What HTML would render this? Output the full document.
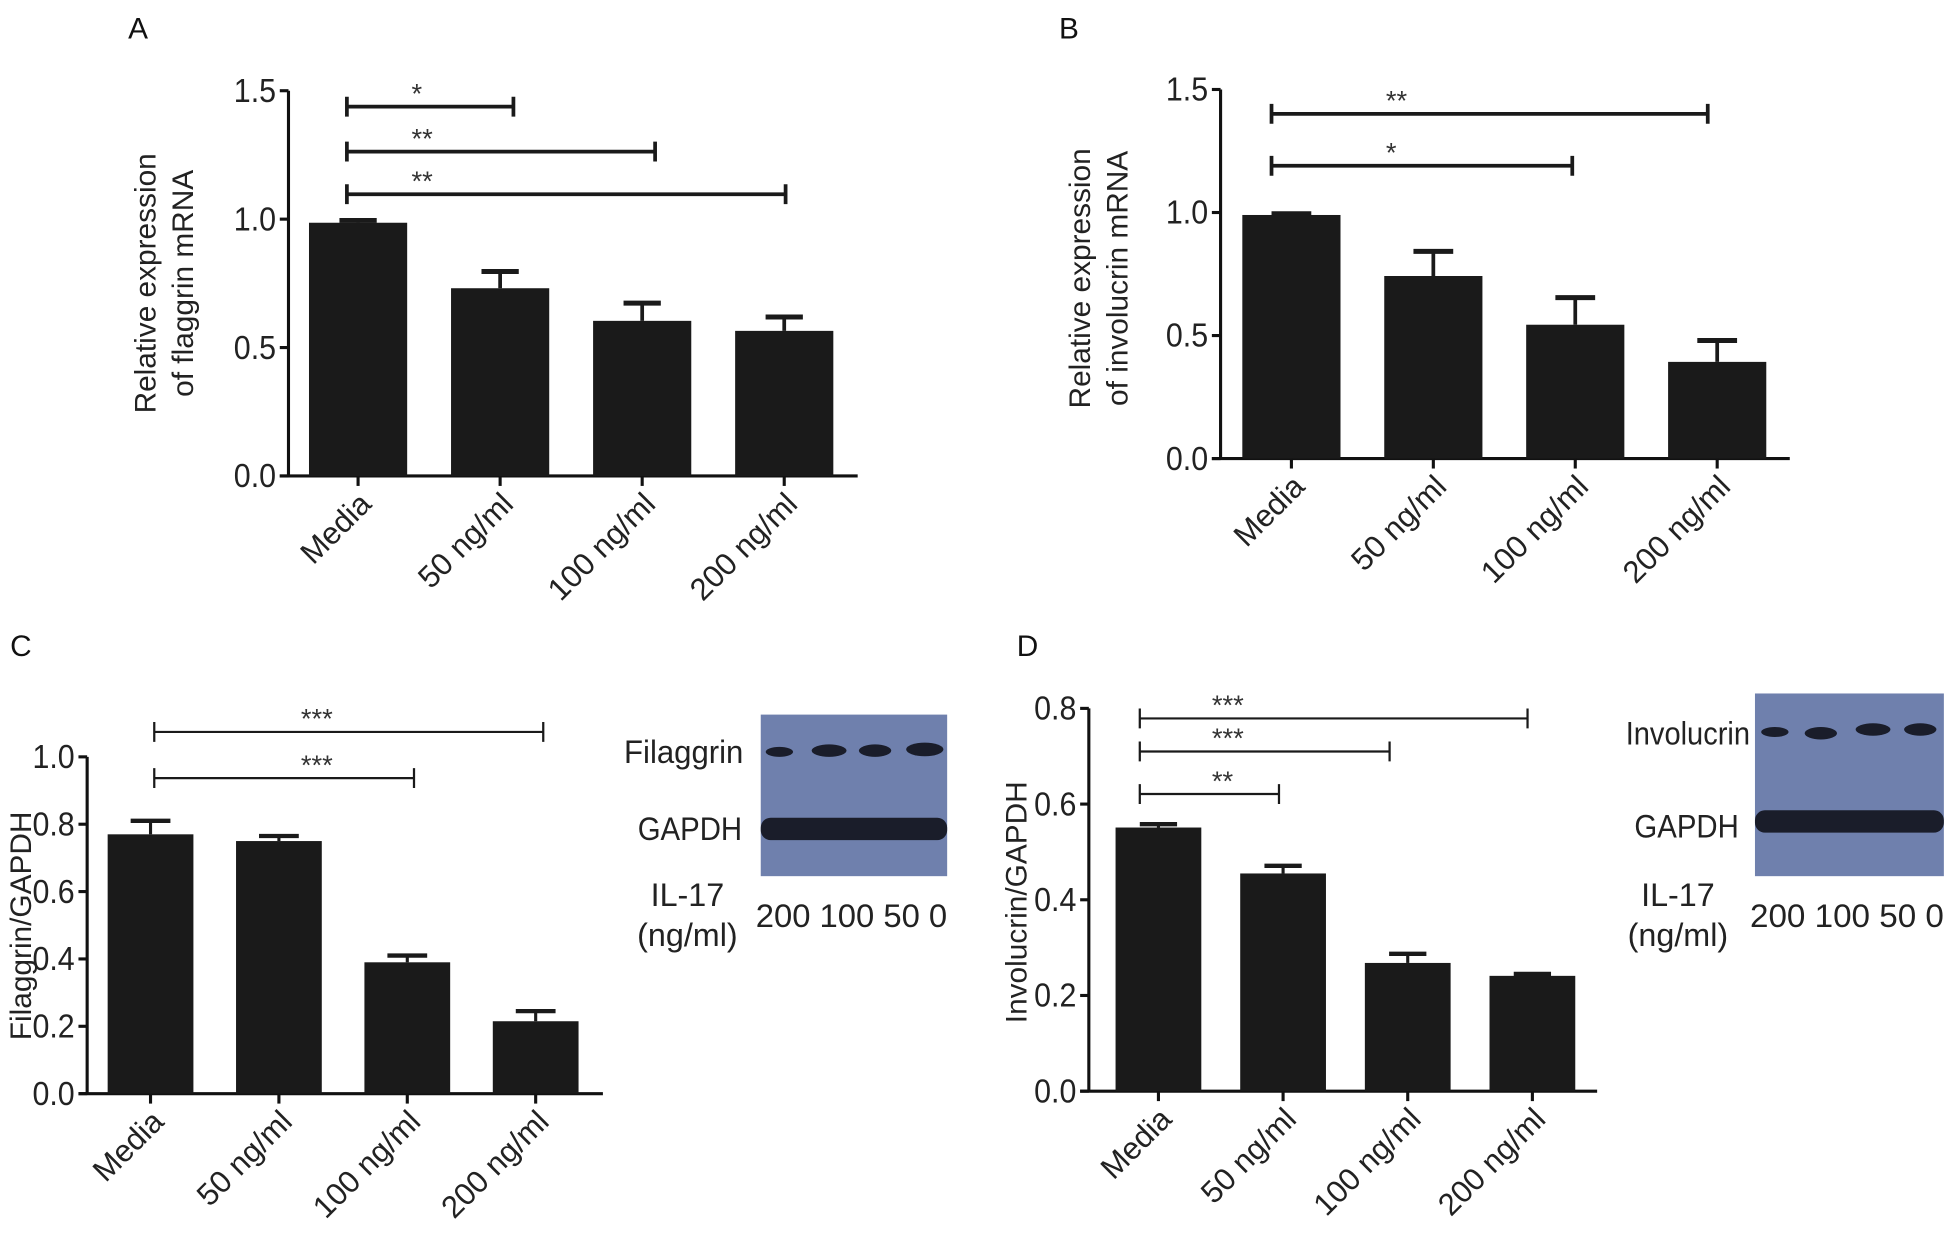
<!DOCTYPE html>
<html><head><meta charset="utf-8"><style>
html,body{margin:0;padding:0;background:#fff;}
svg{display:block;font-family:"Liberation Sans",Arial,sans-serif;}
</style></head><body>
<svg id="fig" width="1949" height="1249" viewBox="0 0 1568 1005" xmlns="http://www.w3.org/2000/svg">
<rect width="1568" height="1005" fill="#fff"/>
<g font-size="24" fill="#111">
<text x="103" y="31">A</text>
<text x="852" y="31">B</text>
<text x="8" y="528">C</text>
<text x="818" y="528">D</text>
</g>
<g font-size="24" fill="#222">
<text transform="translate(125,228) rotate(-90)" text-anchor="middle">Relative expression</text>
<text transform="translate(155,228) rotate(-90)" text-anchor="middle">of flaggrin mRNA</text>
<text transform="translate(877,224) rotate(-90)" text-anchor="middle">Relative expression</text>
<text transform="translate(907,224) rotate(-90)" text-anchor="middle">of involucrin mRNA</text>
<text transform="translate(25,745) rotate(-90)" text-anchor="middle">Filaggrin/GAPDH</text>
<text transform="translate(826,726) rotate(-90)" text-anchor="middle">Involucrin/GAPDH</text>
</g>
<g>
<rect x="612" y="575" width="150" height="130" fill="#6f80ad"/>
<ellipse cx="627" cy="605" rx="11" ry="4" fill="#1a1d2a"/>
<ellipse cx="667" cy="604" rx="14" ry="5" fill="#1a1d2a"/>
<ellipse cx="704" cy="604" rx="13" ry="5" fill="#1a1d2a"/>
<ellipse cx="744" cy="603" rx="15" ry="5.5" fill="#1a1d2a"/>
<rect x="612" y="658" width="150" height="18" rx="8" fill="#1a1d2a"/>
</g>
<g font-size="26" fill="#222">
<text x="598" y="614" text-anchor="end" textLength="96" lengthAdjust="spacingAndGlyphs">Filaggrin</text>
<text x="597" y="676" text-anchor="end" textLength="84" lengthAdjust="spacingAndGlyphs">GAPDH</text>
<text x="553" y="729" text-anchor="middle">IL-17</text>
<text x="553" y="761" text-anchor="middle">(ng/ml)</text>
<text x="608" y="746" textLength="154" lengthAdjust="spacingAndGlyphs">200 100 50 0</text>
</g>
<g>
<rect x="1412" y="558" width="152" height="147" fill="#6f80ad"/>
<ellipse cx="1428" cy="589" rx="11" ry="4" fill="#1a1d2a"/>
<ellipse cx="1465" cy="590" rx="13" ry="5" fill="#1a1d2a"/>
<ellipse cx="1507" cy="587" rx="14" ry="5" fill="#1a1d2a"/>
<ellipse cx="1545" cy="587" rx="13" ry="5" fill="#1a1d2a"/>
<rect x="1412" y="652" width="152" height="18" rx="8" fill="#1a1d2a"/>
</g>
<g font-size="26" fill="#222">
<text x="1408" y="599" text-anchor="end" textLength="100" lengthAdjust="spacingAndGlyphs">Involucrin</text>
<text x="1399" y="674" text-anchor="end" textLength="84" lengthAdjust="spacingAndGlyphs">GAPDH</text>
<text x="1350" y="729" text-anchor="middle">IL-17</text>
<text x="1350" y="761" text-anchor="middle">(ng/ml)</text>
<text x="1408" y="746" textLength="156" lengthAdjust="spacingAndGlyphs">200 100 50 0</text>
</g>
</svg>
<script>
var categories = ["Media", "50 ng/ml", "100 ng/ml", "200 ng/ml"];
// Panel A
var valuesA = [0.986, 0.731, 0.604, 0.565];
var errorsA = [0.995, 0.796, 0.673, 0.619];
var ticksA = [0, 0.5, 1.0, 1.5];
var tickLabelsA = ["0.0", "0.5", "1.0", "1.5"];
var sigToA = [1, 2, 3];
var sigLevelA = [1.438, 1.263, 1.097];
var sigStarsA = ["*", "**", "**"];
// Panel B
var valuesB = [0.99, 0.742, 0.544, 0.393];
var errorsB = [0.995, 0.842, 0.654, 0.48];
var ticksB = [0, 0.5, 1.0, 1.5];
var tickLabelsB = ["0.0", "0.5", "1.0", "1.5"];
var sigToB = [3, 2];
var sigLevelB = [1.401, 1.19];
var sigStarsB = ["**", "*"];
// Panel C
var valuesC = [0.77, 0.75, 0.39, 0.215];
var errorsC = [0.81, 0.765, 0.41, 0.245];
var ticksC = [0, 0.2, 0.4, 0.6, 0.8, 1.0];
var tickLabelsC = ["0.0", "0.2", "0.4", "0.6", "0.8", "1.0"];
var sigToC = [3, 2];
var sigLevelC = [1.074, 0.937];
var sigStarsC = ["***", "***"];
// Panel D
var valuesD = [0.551, 0.455, 0.268, 0.241];
var errorsD = [0.558, 0.471, 0.287, 0.245];
var ticksD = [0, 0.2, 0.4, 0.6, 0.8];
var tickLabelsD = ["0.0", "0.2", "0.4", "0.6", "0.8"];
var sigToD = [3, 2, 1];
var sigLevelD = [0.779, 0.71, 0.621];
var sigStarsD = ["***", "***", "**"];

var NS = "http://www.w3.org/2000/svg";
var svg = document.getElementById("fig");
function mk(tag, attrs, parent) {
  var e = document.createElementNS(NS, tag);
  for (var k in attrs) e.setAttribute(k, attrs[k]);
  (parent || svg).appendChild(e);
  return e;
}
function panel(id, cfg, vals, errs, ticks, tlabels, sigTo, sigLv, sigSt) {
  var g = mk("g", {});
  
  
  var yMax = ticks[ticks.length - 1];
  function y(v) { return cfg.y0 - (v / yMax) * (cfg.y0 - cfg.yTop); }
  function xc(i) { return cfg.c0 + i * cfg.step; }
  var sw = cfg.sw;
  var ya = mk("line", {x1: cfg.ax, y1: cfg.yTop, x2: cfg.ax, y2: cfg.y0, stroke: "#111", "stroke-width": 2.5}, g);
  
  
  var xa = mk("line", {x1: cfg.ax - 7, y1: cfg.y0, x2: cfg.axEnd, y2: cfg.y0, stroke: "#111", "stroke-width": 2.5}, g);
  
  
  ticks.forEach(function (t, i) {
    mk("line", {x1: cfg.ax - 7, y1: y(t), x2: cfg.ax, y2: y(t), stroke: "#111", "stroke-width": 2.5}, g);
    var tl = mk("text", {x: cfg.ax - 10, y: y(t) + 9, "text-anchor": "end", "font-size": 27, fill: "#222",
      textLength: 34, lengthAdjust: "spacingAndGlyphs"}, g);
    tl.textContent = tlabels[i];
    
    
  });
  vals.forEach(function (v, i) {
    var cx = xc(i);
    mk("line", {x1: cx, y1: y(errs[i]), x2: cx, y2: y(v), stroke: "#1a1a1a", "stroke-width": sw}, g);
    var cap = mk("line", {x1: cx - cfg.cap, y1: y(errs[i]), x2: cx + cfg.cap, y2: y(errs[i]), stroke: "#1a1a1a", "stroke-width": sw + 1}, g);
    
    
    var b = mk("rect", {x: cx - cfg.bw / 2, y: y(v), width: cfg.bw, height: cfg.y0 - y(v), fill: "#1a1a1a"}, g);
    
    
    mk("line", {x1: cx, y1: cfg.y0, x2: cx, y2: cfg.y0 + 8, stroke: "#111", "stroke-width": 2.5}, g);
    var lab = mk("text", {x: 0, y: 0, "text-anchor": "end", "font-size": 25, fill: "#222",
      transform: "translate(" + (cx + 12) + "," + (cfg.y0 + 24) + ") rotate(-45)"}, g);
    lab.textContent = categories[i];
    
    
  });
  sigTo.forEach(function (to, k) {
    var yy = y(sigLv[k]);
    var x1 = cfg.sigStart, x2 = cfg.sigEnds[to];
    var sl = mk("path", {d: "M" + x1 + "," + (yy - 8) + "V" + (yy + 8) + "M" + x1 + "," + yy + "H" + x2 + "M" + x2 + "," + (yy - 8) + "V" + (yy + 8),
      stroke: "#1a1a1a", "stroke-width": cfg.sigW, fill: "none"}, g);
    
    
    var st = mk("text", {x: cfg.sigStart + cfg.starOff, y: yy - 3, "font-size": 22, fill: "#333"}, g);
    st.textContent = sigSt[k];
    
    
  });
}
panel("a", {ax: 232, axEnd: 690, y0: 383, yTop: 73, c0: 288, step: 114.3, bw: 79, cap: 15, sw: 3, sigW: 3,
  sigStart: 279, sigEnds: {1: 413, 2: 527, 3: 632}, starOff: 52},
  valuesA, errorsA, ticksA, tickLabelsA, sigToA, sigLevelA, sigStarsA);
panel("b", {ax: 982, axEnd: 1440, y0: 369, yTop: 72, c0: 1039, step: 114.2, bw: 79, cap: 16, sw: 3, sigW: 3,
  sigStart: 1023, sigEnds: {2: 1265, 3: 1374}, starOff: 92},
  valuesB, errorsB, ticksB, tickLabelsB, sigToB, sigLevelB, sigStarsB);
panel("c", {ax: 70, axEnd: 485, y0: 880, yTop: 609, c0: 121, step: 103.3, bw: 69, cap: 16, sw: 2.5, sigW: 1.8,
  sigStart: 124, sigEnds: {2: 333, 3: 437}, starOff: 118},
  valuesC, errorsC, ticksC, tickLabelsC, sigToC, sigLevelC, sigStarsC);
panel("d", {ax: 876, axEnd: 1285, y0: 878, yTop: 570, c0: 932, step: 100.3, bw: 69, cap: 15, sw: 2.5, sigW: 1.8,
  sigStart: 917, sigEnds: {1: 1029, 2: 1118, 3: 1229}, starOff: 58},
  valuesD, errorsD, ticksD, tickLabelsD, sigToD, sigLevelD, sigStarsD);
</script>
</body></html>
